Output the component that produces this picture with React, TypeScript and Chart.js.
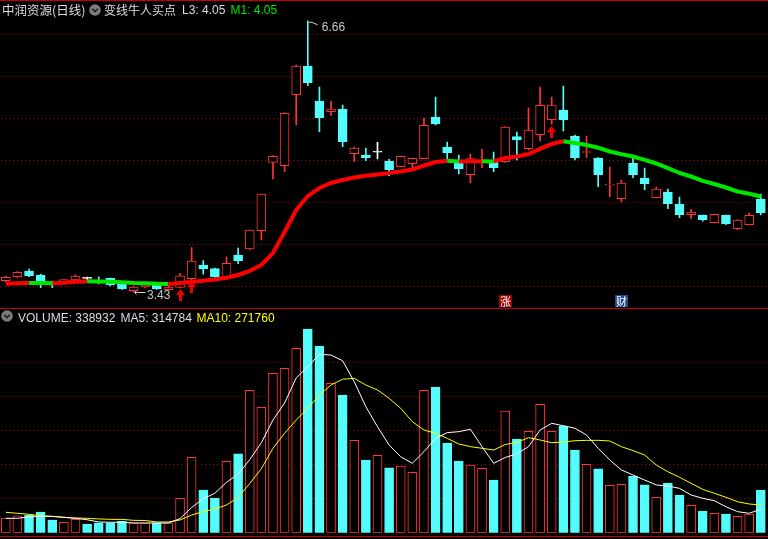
import React, { useEffect, useRef } from "react";
import { Chart, registerables } from "chart.js";

Chart.register(...registerables);

// ---------------- data ----------------
const categories = Array.from({ length: 66 }, (_, i) => `D${i + 1}`);

const opens = [3.567, 3.614, 3.682, 3.635, 3.545, 3.551, 3.575, 3.595, 3.569, 3.595, 3.536, 3.448, 3.492, 3.512, 3.46, 3.488, 3.59, 3.754, 3.71, 3.602, 3.873, 3.944, 4.162, 4.976, 4.936, 5.781, 6.123, 5.706, 5.579, 5.611, 5.079, 5.063, 5.096, 4.992, 4.924, 4.96, 5.019, 5.515, 5.158, 4.964, 4.829, 4.974, 4.983, 4.983, 5.281, 5.138, 5.305, 5.483, 5.599, 5.289, 5.093, 5.027, 4.706, 4.543, 4.968, 4.789, 4.555, 4.623, 4.48, 4.352, 4.349, 4.257, 4.349, 4.186, 4.233, 4.539];
const highs = [3.623, 3.676, 3.706, 3.646, 3.563, 3.581, 3.638, 3.611, 3.614, 3.599, 3.551, 3.504, 3.527, 3.527, 3.504, 3.655, 3.96, 3.805, 3.718, 3.852, 3.956, 4.17, 4.599, 5.057, 5.569, 6.135, 6.66, 5.873, 5.706, 5.658, 5.158, 5.146, 5.214, 5.012, 5.051, 5.027, 5.504, 5.754, 5.218, 5.063, 5.075, 5.135, 5.099, 5.402, 5.337, 5.623, 5.873, 5.754, 5.885, 5.301, 5.289, 5.033, 4.92, 4.765, 5.024, 4.908, 4.682, 4.658, 4.563, 4.417, 4.349, 4.361, 4.349, 4.295, 4.373, 4.599];
const lows = [3.551, 3.605, 3.614, 3.483, 3.483, 3.545, 3.563, 3.575, 3.527, 3.504, 3.462, 3.43, 3.48, 3.462, 3.45, 3.48, 3.543, 3.643, 3.605, 3.599, 3.769, 3.932, 4.051, 4.777, 4.864, 5.424, 5.888, 5.34, 5.531, 5.162, 4.988, 4.995, 5.015, 4.817, 4.92, 4.893, 5.015, 5.42, 5.015, 4.837, 4.733, 4.912, 4.864, 4.976, 5.004, 5.123, 5.23, 5.429, 5.349, 5.004, 5.031, 4.686, 4.567, 4.504, 4.793, 4.65, 4.551, 4.424, 4.317, 4.305, 4.274, 4.254, 4.233, 4.174, 4.23, 4.349];
const closes = [3.607, 3.667, 3.626, 3.548, 3.521, 3.579, 3.623, 3.595, 3.539, 3.515, 3.468, 3.492, 3.519, 3.468, 3.492, 3.626, 3.801, 3.706, 3.611, 3.774, 3.805, 4.17, 4.599, 5.048, 5.56, 6.123, 5.924, 5.507, 5.611, 5.221, 5.146, 5.031, 5.096, 4.888, 5.048, 5.024, 5.417, 5.432, 5.09, 4.896, 5.019, 4.986, 4.912, 5.396, 5.242, 5.361, 5.655, 5.658, 5.48, 5.031, 5.105, 4.829, 4.718, 4.73, 4.829, 4.721, 4.658, 4.483, 4.352, 4.385, 4.293, 4.357, 4.245, 4.289, 4.345, 4.376];
const priceMA = [3.531, 3.536, 3.539, 3.538, 3.536, 3.543, 3.555, 3.56, 3.558, 3.555, 3.548, 3.539, 3.536, 3.53, 3.527, 3.539, 3.551, 3.567, 3.581, 3.602, 3.635, 3.682, 3.754, 3.896, 4.146, 4.408, 4.575, 4.67, 4.73, 4.765, 4.795, 4.817, 4.831, 4.849, 4.867, 4.89, 4.938, 4.98, 4.994, 4.986, 4.988, 4.989, 4.986, 5.027, 5.045, 5.075, 5.135, 5.194, 5.226, 5.206, 5.182, 5.15, 5.105, 5.073, 5.045, 5.006, 4.962, 4.906, 4.849, 4.807, 4.754, 4.718, 4.676, 4.629, 4.601, 4.569];

const volumes = [117000, 133000, 138000, 164000, 101000, 83000, 106000, 69000, 79000, 79000, 93000, 79000, 79000, 79000, 79000, 273000, 598000, 339000, 275000, 567000, 625000, 1130000, 995000, 1265000, 1305000, 1464000, 1617000, 1482000, 1186000, 1093000, 733000, 577000, 614000, 514000, 529000, 479000, 1130000, 1156000, 712000, 569000, 537000, 511000, 418000, 966000, 744000, 805000, 1019000, 805000, 847000, 656000, 543000, 506000, 376000, 384000, 450000, 379000, 281000, 394000, 299000, 217000, 172000, 154000, 148000, 130000, 148000, 338932];
const volMA5 = [114000, 114000, 125000, 130000, 130000, 122000, 114000, 103000, 85000, 83000, 83000, 77000, 77000, 77000, 77000, 112000, 200000, 270000, 313000, 400000, 465000, 580000, 714000, 894000, 1029000, 1228000, 1318000, 1416000, 1410000, 1365000, 1198000, 1000000, 841000, 696000, 603000, 551000, 643000, 749000, 794000, 802000, 821000, 683000, 551000, 597000, 626000, 683000, 815000, 868000, 849000, 829000, 775000, 670000, 577000, 498000, 458000, 418000, 379000, 371000, 352000, 299000, 273000, 254000, 206000, 167000, 154000, 186000];
const volMA10 = [162000, 154000, 146000, 135000, 129000, 122000, 117000, 114000, 109000, 106000, 106000, 98000, 97000, 85000, 85000, 101000, 140000, 168000, 188000, 220000, 280000, 390000, 508000, 670000, 789000, 894000, 987000, 1093000, 1172000, 1218000, 1225000, 1172000, 1133000, 1067000, 987000, 881000, 815000, 789000, 749000, 704000, 683000, 670000, 656000, 700000, 717000, 754000, 736000, 714000, 720000, 730000, 733000, 733000, 728000, 683000, 651000, 617000, 537000, 484000, 440000, 392000, 344000, 313000, 281000, 246000, 228000, 220000];

const priceGrid = [3.5, 4.0, 4.5, 5.0, 5.5, 6.0, 6.5];
const volumeGrid = [270000, 540000, 810000, 1080000, 1350000];

const buySignalIdx = [15, 16, 47];
const buySignalLevel = [3.464, 3.567, 5.408];
const highMarkIdx = 26;
const lowMarkIdx = 11;
const eventIdx = [43, 53];
const eventText = ["涨", "财"];
const eventColors = ["#a00000", "#1c4b8c"];

// ---------------- styles ----------------
const UP = "#ff3434";
const DOWN = "#54fcfc";
const FLAT = "#ffffff";
const MA_UP = "#ff0000";
const MA_DOWN = "#00e600";
const GRID = "#b00000";
const FRAME = "#c80000";
const LABEL = "#c8c8c8";
const TEXT = "#dcdcdc";
const LATIN = "'Liberation Sans', Arial, sans-serif";
const CJK = "'Noto Sans CJK SC', 'Noto Sans', sans-serif";

const PRICE_MIN = 3.2655;
const PRICE_MAX = 6.6702;
const VOL_MAX = 1624700;

const candleColor = (i: number) =>
  closes[i] > opens[i] ? UP : closes[i] < opens[i] ? DOWN : FLAT;
const volUp = (i: number) => {
  if (closes[i] !== opens[i]) return closes[i] > opens[i];
  return i > 0 ? closes[i] >= closes[i - 1] : true;
};

const dotGrid = (values: number[]) => ({
  id: "dotGrid",
  beforeDatasetsDraw(chart: any) {
    const { ctx } = chart;
    const y = chart.scales.y;
    ctx.save();
    ctx.fillStyle = GRID;
    for (const v of values) {
      const py = Math.floor(y.getPixelForValue(v));
      for (let px = 1; px < chart.width; px += 4) ctx.fillRect(px, py, 1, 1);
    }
    ctx.restore();
  },
});

const priceOverlay = {
  id: "priceOverlay",
  afterDatasetsDraw(chart: any) {
    const { ctx } = chart;
    const x = chart.scales.x;
    const y = chart.scales.y;
    ctx.save();
    // buy arrows
    ctx.fillStyle = "#f00000";
    buySignalIdx.forEach((idx, k) => {
      const cx = Math.floor(x.getPixelForValue(idx)) + 0.5;
      const top = Math.round(y.getPixelForValue(buySignalLevel[k]));
      ctx.beginPath();
      ctx.moveTo(cx, top);
      ctx.lineTo(cx + 4.5, top + 6);
      ctx.lineTo(cx - 4.5, top + 6);
      ctx.closePath();
      ctx.fill();
      ctx.fillRect(cx - 1.5, top + 6, 3, 6);
    });
    // high label
    ctx.strokeStyle = LABEL;
    ctx.fillStyle = LABEL;
    ctx.lineWidth = 1;
    ctx.font = `12px ${LATIN}`;
    {
      const hx = x.getPixelForValue(highMarkIdx);
      const hy = y.getPixelForValue(highs[highMarkIdx]);
      ctx.beginPath();
      ctx.moveTo(hx + 1, hy + 1.5);
      ctx.lineTo(hx + 4, hy + 1.5);
      ctx.lineTo(hx + 10, hy + 4);
      ctx.stroke();
      ctx.fillText(highs[highMarkIdx].toFixed(2), hx + 14, hy + 10);
    }
    {
      const lx = x.getPixelForValue(lowMarkIdx);
      const ly = Math.round(y.getPixelForValue(lows[lowMarkIdx])) + 0.5;
      ctx.beginPath();
      ctx.moveTo(lx + 3, ly - 2);
      ctx.lineTo(lx + 1, ly);
      ctx.lineTo(lx + 3, ly + 2);
      ctx.moveTo(lx + 1, ly);
      ctx.lineTo(lx + 12, ly);
      ctx.stroke();
      ctx.fillText(lows[lowMarkIdx].toFixed(2), lx + 13.5, ly + 6);
    }
    // event markers
    ctx.font = `11px ${CJK}`;
    ctx.textAlign = "center";
    ctx.textBaseline = "middle";
    eventIdx.forEach((idx, k) => {
      const cx = Math.round(x.getPixelForValue(idx));
      ctx.fillStyle = eventColors[k];
      ctx.fillRect(cx - 6, 295, 13, 12);
      ctx.fillStyle = "#ffffff";
      ctx.fillText(eventText[k], cx + 0.5, 301.5);
    });
    ctx.restore();
  },
};

const Icon = ({ left, top }: { left: number; top: number }) => (
  <svg
    width={12}
    height={12}
    style={{ position: "absolute", left, top }}
    viewBox="0 0 12 12"
  >
    <circle cx={6} cy={6} r={5.8} fill="#7c7c7c" />
    <polyline points="3.2,4.8 6,7.6 8.8,4.8" fill="none" stroke="#1e1e1e" strokeWidth={1.6} />
  </svg>
);

const txt = (left: number, top: number, color: string, font: string, size: number) => ({
  position: "absolute" as const,
  left,
  top,
  color,
  fontFamily: font,
  fontSize: size,
  lineHeight: "14px",
  whiteSpace: "nowrap" as const,
});

export default function App() {
  const priceRef = useRef<HTMLCanvasElement>(null);
  const volRef = useRef<HTMLCanvasElement>(null);

  useEffect(() => {
    const colors = categories.map((_, i) => candleColor(i));
    const bodyFill = categories.map((_, i) =>
      closes[i] > opens[i] ? "#000000" : candleColor(i)
    );
    const price = new Chart(priceRef.current as HTMLCanvasElement, {
      type: "bar",
      data: {
        labels: categories,
        datasets: [
          {
            type: "line",
            label: "MA",
            data: priceMA,
            borderColor: MA_UP,
            borderWidth: 4,
            pointRadius: 0,
            tension: 0,
            order: 0,
            segment: {
              borderColor: (c: any) => (c.p1.parsed.y >= c.p0.parsed.y ? MA_UP : MA_DOWN),
            },
          } as any,
          {
            type: "bar",
            label: "body",
            data: opens.map((o, i) => [o, closes[i]]),
            backgroundColor: bodyFill,
            borderColor: colors,
            borderWidth: 1,
            borderSkipped: false,
            barThickness: 9,
            minBarLength: 1,
            grouped: false,
            order: 1,
          } as any,
          {
            type: "bar",
            label: "wick",
            data: lows.map((l, i) => [l, highs[i]]),
            backgroundColor: colors,
            borderWidth: 0,
            barThickness: 1,
            grouped: false,
            order: 2,
          } as any,
        ],
      },
      options: {
        responsive: false,
        animation: false,
        devicePixelRatio: 1,
        events: [],
        layout: { padding: { left: 0, right: 1.4, top: 20, bottom: 2 } },
        plugins: { legend: { display: false }, tooltip: { enabled: false } },
        scales: {
          x: { display: false, offset: true },
          y: { display: false, min: PRICE_MIN, max: PRICE_MAX },
        },
      },
      plugins: [dotGrid(priceGrid), priceOverlay],
    });

    const vColors = categories.map((_, i) => (volUp(i) ? UP : DOWN));
    const vFill = categories.map((_, i) => (volUp(i) ? "#000000" : DOWN));
    const vol = new Chart(volRef.current as HTMLCanvasElement, {
      type: "bar",
      data: {
        labels: categories,
        datasets: [
          {
            type: "line",
            label: "MA5",
            data: volMA5,
            borderColor: "#ffffff",
            borderWidth: 1,
            pointRadius: 0,
            tension: 0,
            order: 0,
          } as any,
          {
            type: "line",
            label: "MA10",
            data: volMA10,
            borderColor: "#ffff00",
            borderWidth: 1,
            pointRadius: 0,
            tension: 0,
            order: 0,
          } as any,
          {
            type: "bar",
            label: "VOLUME",
            data: volumes,
            backgroundColor: vFill,
            borderColor: vColors,
            borderWidth: 1,
            borderSkipped: false,
            barThickness: 9,
            order: 1,
          } as any,
        ],
      },
      options: {
        responsive: false,
        animation: false,
        devicePixelRatio: 1,
        events: [],
        layout: { padding: { left: 0, right: 1.4, top: 20, bottom: 6.3 } },
        plugins: { legend: { display: false }, tooltip: { enabled: false } },
        scales: {
          x: { display: false, offset: true },
          y: { display: false, min: 0, max: VOL_MAX },
        },
      },
      plugins: [dotGrid(volumeGrid)],
    });

    return () => {
      price.destroy();
      vol.destroy();
    };
  }, []);

  return (
    <div
      style={{
        position: "absolute",
        left: 0,
        top: 0,
        width: 768,
        height: 539,
        background: "#000",
        overflow: "hidden",
      }}
    >
      <canvas ref={priceRef} width={768} height={308} style={{ position: "absolute", left: 0, top: 0 }} />
      <canvas ref={volRef} width={768} height={231} style={{ position: "absolute", left: 0, top: 308 }} />
      <div style={{ position: "absolute", left: 0, top: 0, width: 768, height: 1, background: FRAME }} />
      <div style={{ position: "absolute", left: 0, top: 308, width: 768, height: 1, background: FRAME }} />
      <div style={{ position: "absolute", left: 0, top: 536, width: 768, height: 1, background: FRAME }} />

      <div style={txt(2, 3, TEXT, CJK, 12.5)}>中润资源(日线)</div>
      <Icon left={89} top={4} />
      <div style={txt(104, 3, TEXT, CJK, 12)}>变线牛人买点</div>
      <div style={txt(182, 3, TEXT, LATIN, 12)}>L3: 4.05</div>
      <div style={txt(230.5, 3, "#00e600", LATIN, 12)}>M1: 4.05</div>

      <Icon left={1} top={309.5} />
      <div style={txt(18, 311, TEXT, LATIN, 12)}>VOLUME: 338932</div>
      <div style={txt(120.5, 311, TEXT, LATIN, 12)}>MA5: 314784</div>
      <div style={txt(196.5, 311, "#ffff00", LATIN, 12)}>MA10: 271760</div>
    </div>
  );
}
